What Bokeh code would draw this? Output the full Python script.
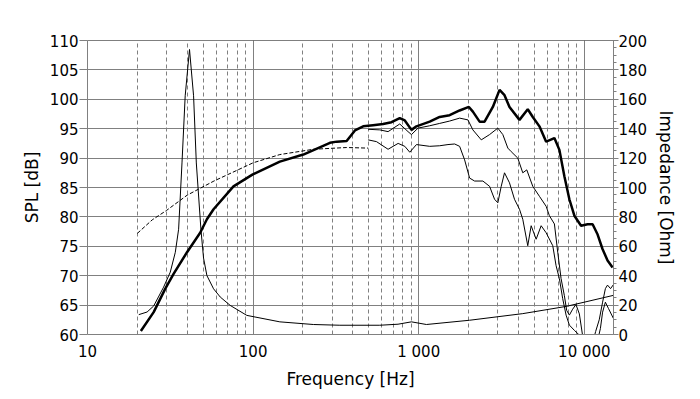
from bokeh.plotting import figure
from bokeh.models import Range1d, LinearAxis, FixedTicker, Span
from bokeh.embed import file_html
from bokeh.resources import INLINE

# ---- data ----
spl_freq = [21.0, 25.1, 29.5, 33.1, 39.9, 47.9, 52.6, 57.7, 76.1, 99, 145, 201, 291, 320, 367, 412,
            462, 530, 609, 685, 768, 824, 904, 969, 1165, 1338, 1537, 1766, 2009, 2123, 2331, 2498,
            2803, 3076, 3296, 3532, 4059, 4554, 4883, 5357, 5880, 6596, 7069, 7577, 8121, 8707,
            9553, 10470, 11220, 12030, 12890, 13810, 14810]
spl_db = [60.6, 63.8, 67.8, 70.3, 74.0, 77.3, 79.6, 81.3, 85.2, 87.2, 89.4, 90.6, 92.6, 92.8, 92.9, 94.7,
          95.4, 95.6, 95.8, 96.1, 96.8, 96.4, 94.8, 95.4, 96.2, 97.0, 97.3, 98.1, 98.7, 97.9, 96.2, 96.2,
          98.7, 101.6, 100.7, 98.7, 96.5, 98.3, 97.0, 95.4, 92.8, 93.4, 91.4, 86.9, 83.0, 80.2,
          78.5, 78.75, 78.75, 77.0, 74.5, 72.6, 71.4]

off30_freq = [495, 582, 653, 768, 862, 904, 990, 1165, 1338, 1537, 1766, 1982, 2123, 2386, 2678, 3004,
              3220, 3452, 3617, 3964, 4249, 4492, 4883, 5357, 5880, 6152, 6596, 6907, 7238, 7577,
              7823, 8121, 8500, 8900, 9330, 9800, 10500, 11200, 11700, 12300, 12890, 13400, 13800,
              14400, 15000]
off30_db = [94.9, 94.8, 94.5, 95.8, 94.5, 94.0, 95.1, 95.5, 95.9, 96.3, 96.8, 96.5, 94.8, 93.1, 94.0, 95.1,
            94.0, 91.7, 91.1, 90.0, 87.5, 88.0, 85.2, 83.5, 81.8, 80.2, 78.8, 74.0, 69.5, 66.6,
            64.1, 63.3, 64.3, 65.1, 63.5, 59.5, 58.0, 58.5, 60.5, 62.5, 65.5, 67.8, 68.4,
            67.8, 68.5]

off60_freq = [495, 556, 653, 751, 824, 883, 969, 1165, 1338, 1502, 1648, 1766, 1893, 2029, 2174, 2440,
              2678, 2870, 3004, 3149, 3296, 3532, 3787, 4059, 4249, 4554, 4775, 5117, 5486, 5880,
              6447, 6752, 7069, 7401, 7758, 8121, 8707, 9330, 10000, 11000, 11800, 12500, 12890,
              13400, 14000, 15000]
off60_db = [93.1, 92.8, 91.5, 92.5, 92.0, 91.0, 92.3, 92.0, 92.1, 92.3, 92.4, 92.0, 89.7, 86.6, 86.1, 86.1,
            85.2, 83.0, 82.4, 85.2, 87.5, 85.8, 83.0, 81.3, 79.6, 75.1, 78.5, 76.2, 78.5, 77.3,
            75.1, 71.7, 69.5, 66.1, 63.3, 61.6, 60.7, 59.9, 57.5, 56.5, 58.0, 61.0, 63.8,
            65.5, 64.4, 62.7]

sim_freq = [20, 24.6, 30, 40, 58, 100, 145, 231, 367, 495]
sim_db = [77.2, 79.5, 81.1, 83.7, 86.1, 89.2, 90.6, 91.5, 91.8, 91.7]

imp_freq = [20.4, 22.9, 25.1, 28.8, 31.6, 33.9, 35.5, 37.2, 38.9, 41.3, 43.7, 45.4, 48.4, 50.2, 52.6,
            57.7, 63.3, 72.7, 91.6, 145, 231, 334, 582, 750, 904, 1113, 2029, 4249, 7758, 14950]
imp_ohm = [13.5, 15.3, 19.4, 32.2, 42.4, 55.9, 71.6, 116.7, 162.4, 193.9, 162.4, 116.7, 71.6, 52.0, 40.1,
           31.1, 25.5, 19.8, 13.0, 8.6, 6.8, 6.3, 6.3, 7.0, 8.6, 6.8, 9.7, 14.2, 19.1, 26.6]

x_major = [10, 100, 1000, 10000]
x_minor = [m * d for d in (10, 100, 1000) for m in range(2, 10)] + [20000]
x_labels = {10: "10", 100: "100", 1000: "1 000", 10000: "10 000"}
spl_ticks = list(range(60, 111, 5))
imp_ticks = list(range(0, 201, 20))
imp_minor = list(range(0, 201, 5))

FONT = "DejaVu Sans"
GRID = "#808080"

p = figure(width=692, height=391, x_axis_type="log",
           x_range=Range1d(10, 15000), y_range=Range1d(60, 110),
           output_backend="svg", toolbar_location=None,
           min_border_left=87, min_border_right=79, min_border_top=40, min_border_bottom=55)
p.extra_y_ranges = {"imp": Range1d(0, 200)}
p.outline_line_color = None
p.background_fill_color = "white"
p.border_fill_color = "white"

xt = FixedTicker(ticks=x_major, minor_ticks=x_minor)
p.xaxis.ticker = xt
p.xgrid.ticker = xt
p.xaxis.major_label_overrides = x_labels
p.xgrid.grid_line_color = GRID
p.xgrid.grid_line_alpha = 1
p.xgrid.minor_grid_line_color = GRID
p.xgrid.minor_grid_line_dash = "4 3"

yt = FixedTicker(ticks=spl_ticks)
p.yaxis.ticker = yt
p.ygrid.ticker = yt
p.ygrid.grid_line_color = GRID
p.ygrid.grid_line_alpha = 1

right = LinearAxis(y_range_name="imp", ticker=FixedTicker(ticks=imp_ticks, minor_ticks=imp_minor))
p.add_layout(right, "right")

for ax in (p.xaxis[0], p.yaxis[0], right):
    ax.axis_line_color = GRID
    ax.major_tick_line_color = GRID
    ax.minor_tick_line_color = GRID
    ax.major_label_text_font = FONT
    ax.major_label_text_font_size = "15px"
    ax.major_label_text_color = "black"
    ax.axis_label_text_font = FONT
    ax.axis_label_text_font_size = "17px"
    ax.axis_label_text_font_style = "normal"
    ax.axis_label_text_color = "black"
    ax.major_tick_in = 0
    ax.minor_tick_in = 0

p.xaxis.axis_label = "Frequency [Hz]"
p.xaxis.major_tick_out = 0
p.xaxis.minor_tick_out = 0
p.xaxis.major_label_standoff = 8
p.xaxis.axis_label_standoff = 5

p.yaxis.axis_label = "SPL [dB]"
p.yaxis.major_tick_out = 8
p.yaxis.minor_tick_out = 0
p.yaxis.major_label_standoff = 1
p.yaxis.axis_label_standoff = 5

right.axis_label = "Impedance [Ohm]"
right.major_tick_out = 5
right.minor_tick_out = 3
right.major_label_standoff = 0
right.axis_label_standoff = 6

p.add_layout(Span(location=110, dimension="width", line_color="black", line_width=1))

p.line(sim_freq, sim_db, line_color="black", line_width=1, line_dash="4 2")
p.line(imp_freq, imp_ohm, line_color="black", line_width=1, y_range_name="imp")
p.line(off60_freq, off60_db, line_color="black", line_width=1)
p.line(off30_freq, off30_db, line_color="black", line_width=1)
p.line(spl_freq, spl_db, line_color="black", line_width=2.5)

open("out.html", "w").write(file_html(p, INLINE))
